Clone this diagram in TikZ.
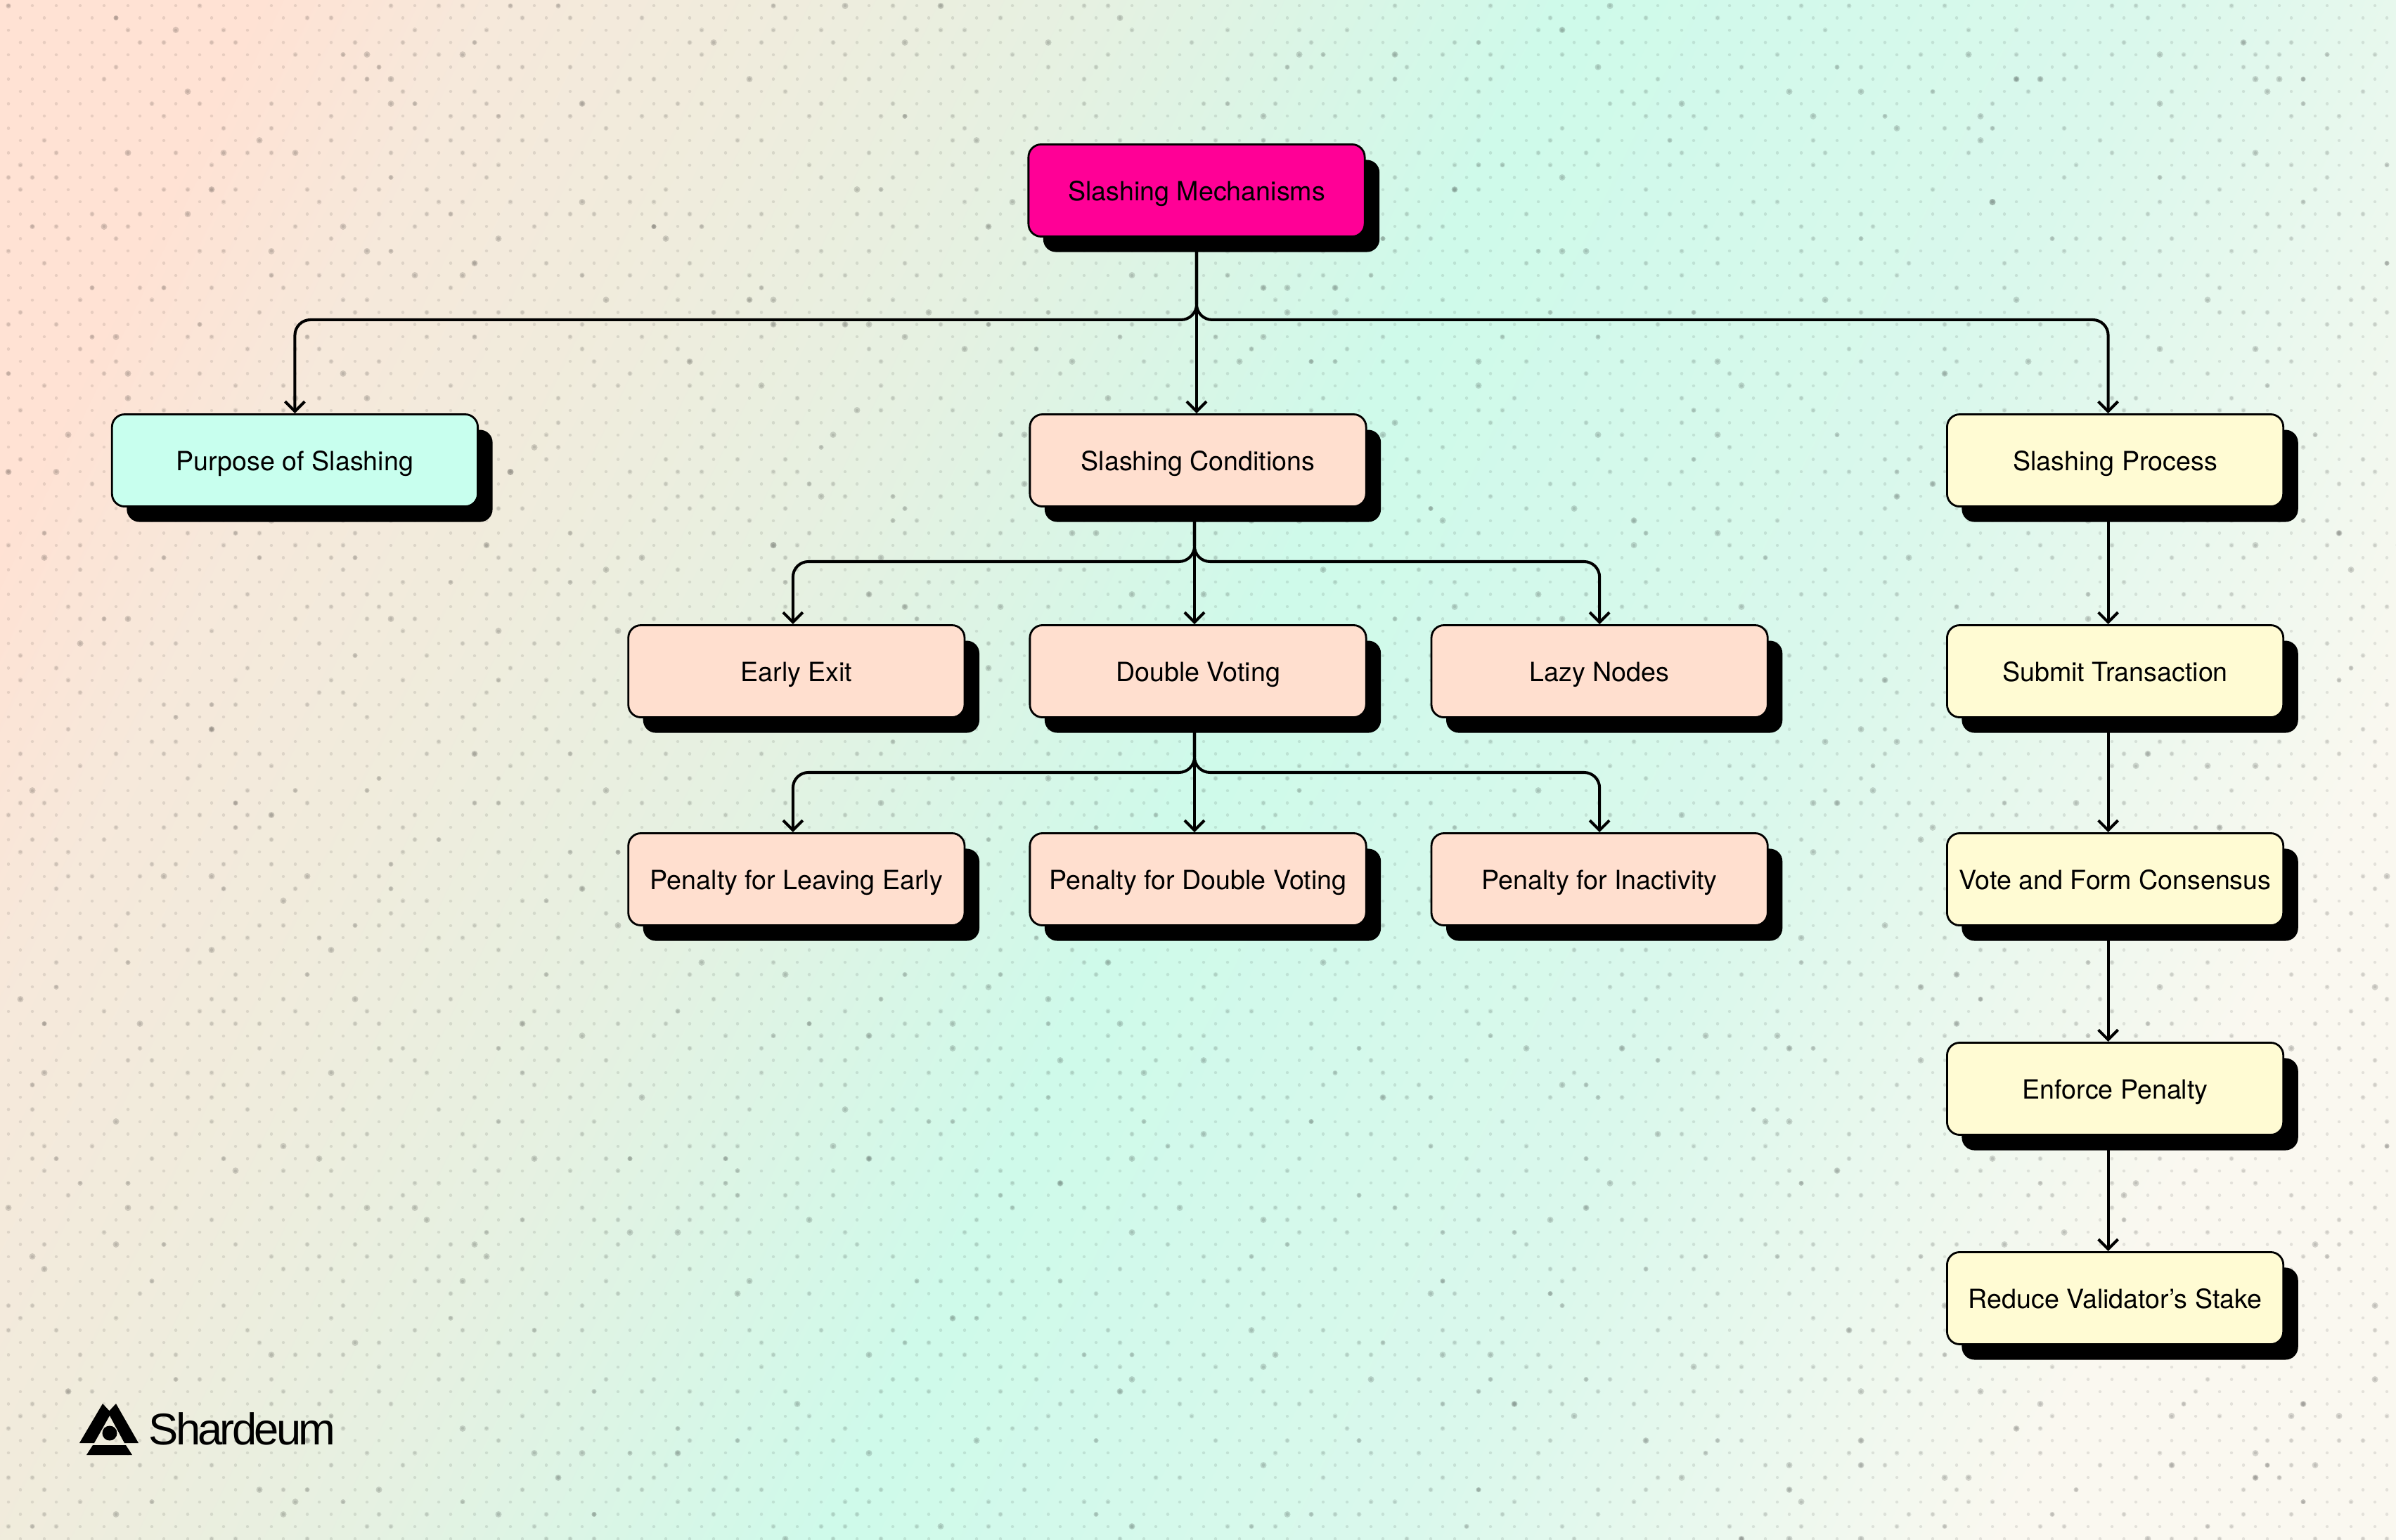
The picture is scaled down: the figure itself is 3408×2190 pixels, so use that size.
\documentclass[tikz,border=0pt]{standalone}
\usepackage{fontspec}
\setmainfont{TeX Gyre Heros}
\newfontfamily\logofont[LetterSpace=-6]{Liberation Sans}
\usepackage{xcolor}
\usetikzlibrary{arrows.meta,positioning,shadows}

\definecolor{rootpink}{HTML}{FF0096}
\definecolor{mintbox}{HTML}{C8FFEE}
\definecolor{peachbox}{HTML}{FFDFCF}
\definecolor{creambox}{HTML}{FFFBD3}

\pgfdeclarehorizontalshading{bgfade}{100bp}{
  rgb(0bp)=(1,.885,.83);
  rgb(22bp)=(1,.885,.83);
  rgb(27bp)=(.965,.912,.858);
  rgb(33bp)=(.94,.925,.865);
  rgb(40bp)=(.90,.945,.885);
  rgb(50bp)=(.81,.98,.918);
  rgb(62.5bp)=(.855,.973,.925);
  rgb(75bp)=(.98,.973,.94);
  rgb(100bp)=(.98,.973,.94)}

\newcommand{\griddots}[1]{%
  \foreach \n in {1,...,#1}{
    \pgfmathtruncatemacro{\row}{random(0,125)}
    \pgfmathsetmacro{\dotx}{12+34*random(0,100)+17*mod(\row,2)}
    \draw (\dotx,{8+17.45*\row}) -- ++(0.01,0);
  }}

\begin{document}
\begin{tikzpicture}[
  x=0.01cm, y=-0.01cm,
  box/.style={draw, rounded corners=0.18cm, line width=0.8pt, inner sep=0pt,
    minimum width=4.78cm, minimum height=1.31cm, text height=0.3cm, text depth=0.02cm,
    font=\fontsize{10.7}{13}\selectfont,
    drop shadow={shadow xshift=0.21cm, shadow yshift=-0.22cm, opacity=1, fill=black}},
  flow/.style={-{Straight Barb[length=1.4mm,width=2.8mm]}, line width=1.15pt, rounded corners=0.22cm}
]
\useasboundingbox (0,0) rectangle (3408,2190);
\shade[shading=bgfade, shading angle=-25.7] (0,0) rectangle (3408,2190);

% paper dots
\pgfmathsetseed{4711}
\begin{scope}[line cap=round, black]
\begin{scope}[opacity=0.09, line width=0.045cm]
\foreach \row in {0,...,125}{
  \foreach \col in {0,...,100}{
    \pgfmathsetmacro{\dotx}{12+34*\col+17*mod(\row,2)}
    \draw (\dotx,{8+17.45*\row}) -- ++(0.01,0);
  }
}
\end{scope}
\begin{scope}[opacity=0.08, line width=0.07cm]
\griddots{3000}
\end{scope}
\begin{scope}[opacity=0.15, line width=0.09cm]
\griddots{400}
\end{scope}
\end{scope}

\node[box, fill=rootpink] (root) at (1702,271) {Slashing Mechanisms};
\node[box, fill=peachbox, below=2.5cm of root, xshift=0.02cm] (conditions) {Slashing Conditions};
\node[box, fill=mintbox, minimum width=5.2cm, left=7.82cm of conditions] (purpose) {Purpose of Slashing};
\node[box, fill=creambox, right=8.23cm of conditions] (process) {Slashing Process};

\node[box, fill=peachbox, below=1.66cm of conditions] (double) {Double Voting};
\node[box, fill=peachbox, left=0.90cm of double] (early) {Early Exit};
\node[box, fill=peachbox, right=0.90cm of double] (lazy) {Lazy Nodes};

\node[box, fill=peachbox, below=1.62cm of double] (pdouble) {Penalty for Double Voting};
\node[box, fill=peachbox, left=0.90cm of pdouble] (pearly) {Penalty for Leaving Early};
\node[box, fill=peachbox, right=0.90cm of pdouble] (plazy) {Penalty for Inactivity};

\node[box, fill=creambox, below=1.66cm of process] (submit) {Submit Transaction};
\node[box, fill=creambox, below=1.62cm of submit] (vote) {Vote and Form Consensus};
\node[box, fill=creambox, below=1.64cm of vote] (enforce) {Enforce Penalty};
\node[box, fill=creambox, below=1.64cm of enforce] (reduce) {Reduce Validator’s Stake};

\draw[flow] (root.south) -- ++(0,117) -| (purpose.north);
\draw[flow] (root.south) -- (root.south |- conditions.north);
\draw[flow] (root.south) -- ++(0,117) -| ([xshift=-0.1cm]process.north);

\draw[flow] ([xshift=-0.05cm]conditions.south) -- ++(0,77) -| ([xshift=-0.05cm]early.north);
\draw[flow] ([xshift=-0.05cm]conditions.south) -- ([xshift=-0.05cm]double.north);
\draw[flow] ([xshift=-0.05cm]conditions.south) -- ++(0,77) -| (lazy.north);

\draw[flow] ([xshift=-0.05cm]double.south) -- ++(0,77) -| ([xshift=-0.05cm]pearly.north);
\draw[flow] ([xshift=-0.05cm]double.south) -- ([xshift=-0.05cm]pdouble.north);
\draw[flow] ([xshift=-0.05cm]double.south) -- ++(0,77) -| (plazy.north);

\draw[flow] ([xshift=-0.1cm]process.south) -- ([xshift=-0.1cm]submit.north);
\draw[flow] ([xshift=-0.1cm]submit.south) -- ([xshift=-0.1cm]vote.north);
\draw[flow] ([xshift=-0.1cm]vote.south) -- ([xshift=-0.1cm]enforce.north);
\draw[flow] ([xshift=-0.1cm]enforce.south) -- ([xshift=-0.1cm]reduce.north);

% logo
\fill (146,1997) -- (113,2053) -- (134,2053) -- (156,2014) -- (160,2012) -- cycle;
\fill (165,1997) -- (197,2053) -- (177,2053) -- (156,2014) -- (151,2012) -- cycle;
\fill (132,2056) -- (179,2056) -- (188,2070) -- (123,2070) -- cycle;
\fill (156,2039) circle[radius=10.5];
\node[inner sep=0pt, anchor=west, font=\logofont\fontsize{18}{20}\selectfont] (logo) at (211,2033) {Shardeum};
\end{tikzpicture}
\end{document}
